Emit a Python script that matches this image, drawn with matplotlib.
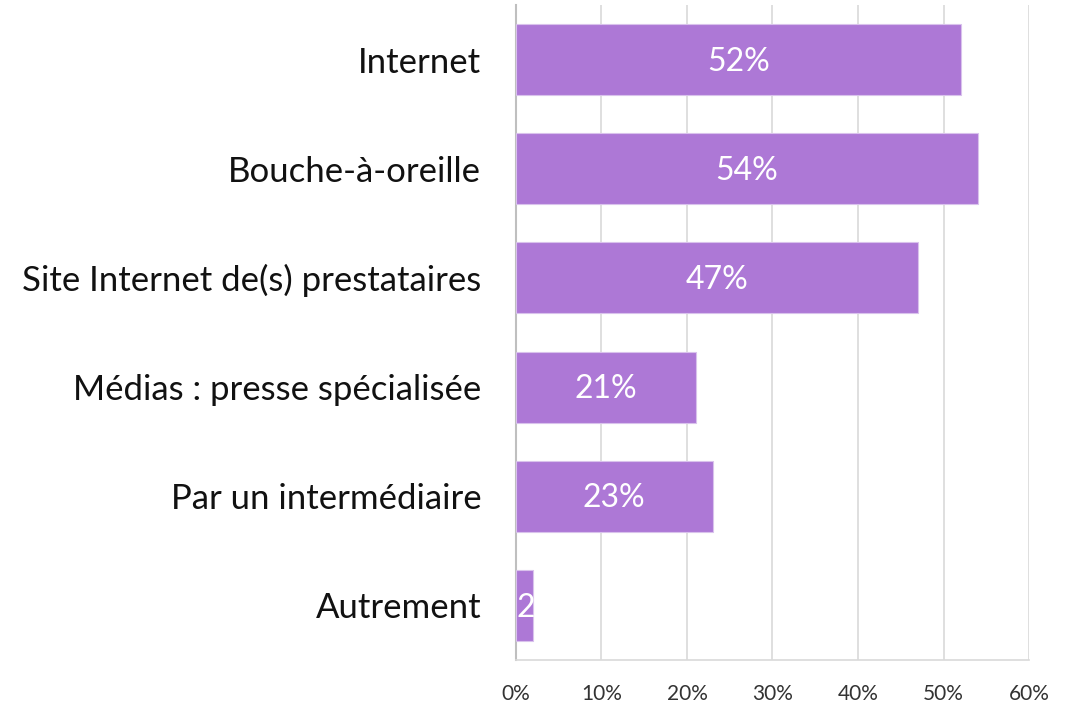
import matplotlib
matplotlib.use("Agg")
import matplotlib.pyplot as plt

# data
categories = ["Internet", "Bouche-à-oreille", "Site Internet de(s) prestataires",
              "Médias : presse spécialisée", "Par un intermédiaire", "Autrement"]
values = [52, 54, 47, 21, 23, 2]
xticks = [0, 10, 20, 30, 40, 50, 60]

plt.rcParams['font.family'] = ['Lato', 'DejaVu Sans']

fig = plt.figure(figsize=(10.72, 7.06), dpi=100)
ax = fig.add_axes([0.4813, 0.0652, 0.4786, 0.9277])

ypos = list(range(len(categories)))
bars = ax.barh(ypos, values, height=0.65, color='#AD78D6', edgecolor='#D9C2EC',
               linewidth=0.8, zorder=3)

for b, v in zip(bars, values):
    yc = b.get_y() + b.get_height() / 2 + 0.02
    if v < 5:
        # label wider than the bar: Excel starts it at the bar's left and clips it
        t = ax.text(0.1, yc, f"{v}%", ha='left', va='center', color='white',
                    fontsize=23, zorder=4)
    else:
        t = ax.text(v / 2, yc, f"{v}%", ha='center', va='center', color='white',
                    fontsize=23, zorder=4)
    t.set_clip_path(b)

ax.set_ylim(len(categories) - 0.5, -0.5)
ax.set_xlim(0, 60)
ax.set_xticks(xticks)
ax.set_xticklabels([f"{x}%" for x in xticks], fontsize=15, color='#333333')
ax.set_yticks(ypos)
ax.set_yticklabels(categories, fontsize=25, color='#111111')
ax.tick_params(axis='y', length=0, pad=25)
ax.tick_params(axis='x', length=0, pad=17)
ax.grid(axis='x', color='#D9D9D9', linewidth=1.2, zorder=0)
for s in ['top', 'right']:
    ax.spines[s].set_visible(False)
ax.spines['left'].set_color('#BFBFBF')
ax.spines['left'].set_linewidth(1.5)
ax.spines['bottom'].set_color('#D9D9D9')
ax.spines['bottom'].set_linewidth(1.2)
ax.set_axisbelow(True)

fig.savefig('out.png', dpi=100)
